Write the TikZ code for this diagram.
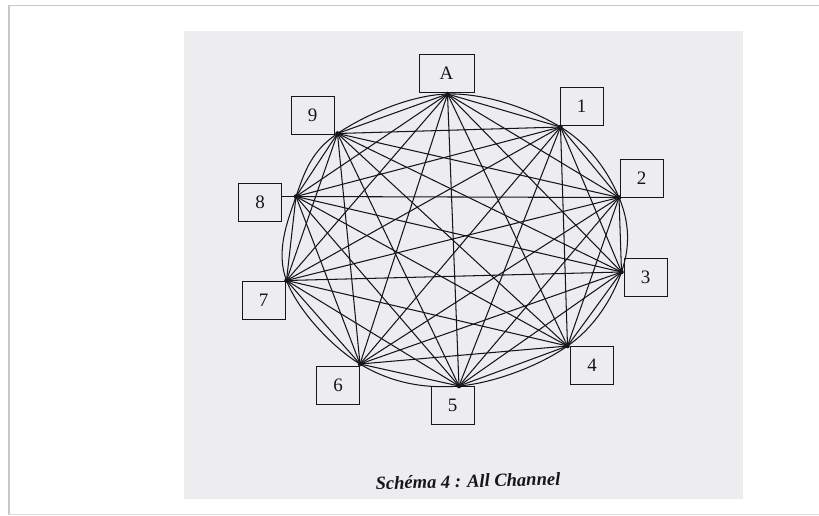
\documentclass[tikz,border=0pt]{standalone}
\usepackage{fontspec}
\setmainfont{Liberation Serif}
\definecolor{page}{RGB}{237,237,240}
\definecolor{ink}{RGB}{22,22,24}
\definecolor{shadow}{RGB}{200,200,200}
\tikzset{
  member/.style={draw=ink, line width=1pt, fill=page, minimum width=43pt, minimum height=38pt, inner sep=0pt, font=\fontsize{19}{19}\selectfont, text=ink},
  channel/.style={draw=ink, line width=1.05pt},
  hub/.style={fill=ink},
}
\begin{document}
\begin{tikzpicture}[x=1pt,y=-1pt]
\useasboundingbox (0,0) rectangle (819,515);
% frame shadow
\draw[shadow, line width=1.6pt] (9,515) -- (9,5.5) -- (819,5.5);
\draw[shadow!60, line width=0.8pt] (9,514) -- (819,514);
% scanned page
\fill[page] (184,31) rectangle (743,499);
% points
\coordinate (pA) at (447.5,94);
\coordinate (p1) at (560.5,127);
\coordinate (p2) at (619,197.5);
\coordinate (p3) at (621.5,272);
\coordinate (p4) at (567.5,346);
\coordinate (p5) at (459,386);
\coordinate (p6) at (360,364);
\coordinate (p7) at (286.5,280.5);
\coordinate (p8) at (296,196.5);
\coordinate (p9) at (337.5,133.5);
% boxes
\node[member, minimum width=55pt] (bA) at (446.5,73) {A};
\node[member] (b1) at (581.5,106) {1};
\node[member] (b2) at (641.5,178) {2};
\node[member] (b3) at (645.5,277) {3};
\node[member] (b4) at (592,365) {4};
\node[member] (b5) at (452.5,405.5) {5};
\node[member] (b6) at (338,385) {6};
\node[member] (b7) at (263.5,300) {7};
\node[member] (b8) at (260,202.5) {8};
\node[member] (b9) at (312.5,115) {9};
% outline
\draw[channel] plot[smooth cycle, tension=0.62] coordinates {(pA) (p1) (p2) (p3) (p4) (p5) (p6) (p7) (p8) (p9)};
% all channels
\foreach \a/\rest in {A/{1,2,3,4,5,6,7,8,9},1/{2,3,4,5,6,7,8,9},2/{3,4,5,6,7,8,9},3/{4,5,6,7,8,9},4/{5,6,7,8,9},5/{6,7,8,9},6/{7,8,9},7/{8,9},8/{9}}{
  \foreach \b in \rest { \draw[channel] (p\a) -- (p\b); }
}
\draw[channel] (b8.east |- p8) -- (p8);
\foreach \p in {A,1,2,3,4,5,6,7,8,9} { \fill[hub] (p\p) circle (2.3pt); }
% caption
\node[font=\fontsize{18.5}{18.5}\selectfont\bfseries\itshape, text=ink, rotate=1.5] (cap) at (468,481) {Schéma 4 : All Channel};
\end{tikzpicture}
\end{document}
